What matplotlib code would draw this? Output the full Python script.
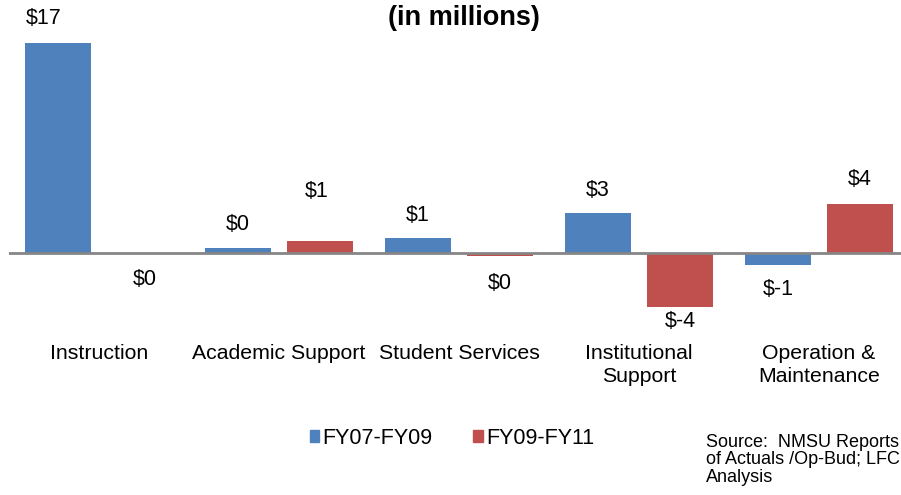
import numpy as np
import matplotlib.pyplot as plt
from matplotlib.patches import Patch

plt.rcParams['font.family'] = ['Liberation Sans', 'DejaVu Sans']

# data (in millions)
categories = ['Instruction', 'Academic Support', 'Student Services',
              'Institutional\nSupport', 'Operation &\nMaintenance']
fy07_09 = [17.0, 0.4, 1.2, 3.2, -1.0]
fy09_11 = [0.0, 1.0, -0.25, -4.4, 4.0]
series_names = ['FY07-FY09', 'FY09-FY11']

blue = '#4F81BD'
red = '#C0504D'

fig = plt.figure(figsize=(9.01, 4.95), dpi=100)
# axes runs a little past the right edge, the chart is cropped there
ax = fig.add_axes([9 / 901, 1 - 333 / 495, 900 / 901, 333 / 495])

x = np.arange(len(categories))
w = 0.367
off = 0.228
b1 = ax.bar(x - off, fy07_09, w, color=blue)
b2 = ax.bar(x + off, fy09_11, w, color=red)

ax.axhline(0, color='#868686', lw=2, zorder=3)
ax.set_xlim(-0.5, 4.5)
ax.set_ylim(-6.5, 20.5)
for s in ax.spines.values():
    s.set_visible(False)
ax.set_yticks([])
ax.set_xticks(x)
ax.set_xticklabels(categories, fontsize=15.3, linespacing=1.25)
ax.tick_params(axis='x', length=0, pad=8)

# label offsets in pixels (dx, dy from bar end)
offs1 = [(-14, 25), (0, 23), (0, 23), (0, 23), (0, -24)]
offs2 = [(5, -27), (-3, 49), (0, -28), (0, -14), (0, 24)]
px = 72 / 100
for bars, vals, offs in [(b1, fy07_09, offs1), (b2, fy09_11, offs2)]:
    for bar, v, (dx, dy) in zip(bars, vals, offs):
        xc = bar.get_x() + bar.get_width() / 2
        ax.annotate('$%d' % round(v) if round(v) != 0 else '$0', (xc, v),
                    xytext=(dx * px, dy * px), textcoords='offset points',
                    ha='center', va='center', fontsize=15.5)

# title (its first line is cut off above the picture)
fig.text(464 / 901, 1 - 18 / 495, '(in millions)', ha='center', va='center',
         fontsize=19.5, fontweight='bold')

handles = [Patch(color=blue), Patch(color=red)]
fig.legend(handles, series_names, loc='center', bbox_to_anchor=(452 / 901, 1 - 438 / 495),
           ncol=2, frameon=False, fontsize=15.5, handlelength=0.45, handleheight=0.45,
           handletextpad=0.15, columnspacing=1.9)

fig.text(706 / 901, 1 - 434 / 495, 'Source:  NMSU Reports\nof Actuals /Op-Bud; LFC\nAnalysis',
         ha='left', va='top', fontsize=13, linespacing=1.03)

fig.savefig('out.png', dpi=100)
